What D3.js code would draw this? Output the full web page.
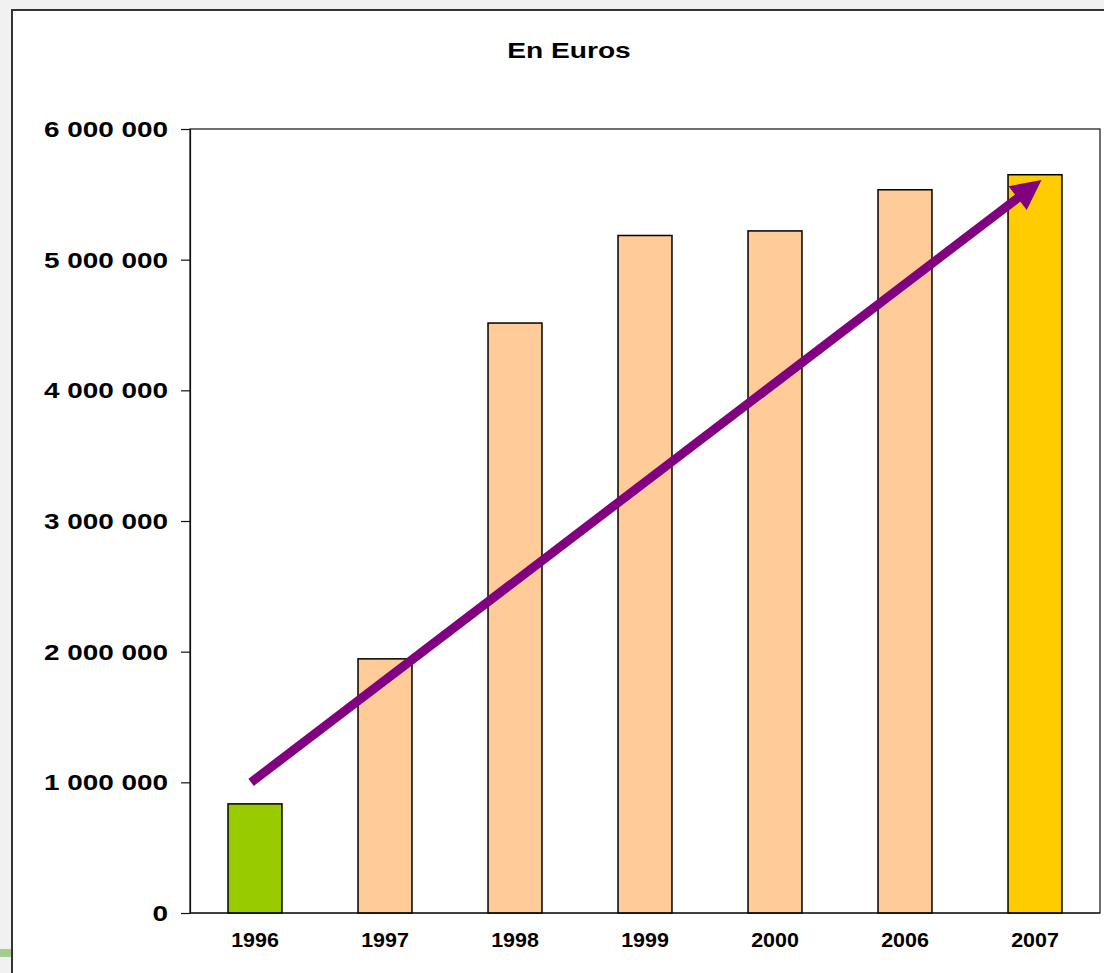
<!DOCTYPE html>
<html lang="fr">
<head>
    <meta charset="UTF-8">
    <title>En Euros</title>
    <script src="https://d3js.org/d3.v7.min.js"></script>
    <style>
        html, body { margin: 0; padding: 0; background: #f1f1f1; overflow: hidden; }
        svg { display: block; }
        text { font-family: "Liberation Sans", Arial, sans-serif; font-weight: bold; fill: #000; }
        .bar { stroke: #000; stroke-width: 1.5px; }
    </style>
</head>
<body>
    <svg width="1104" height="973"></svg>
    <script>
        // data
        const years = ["1996", "1997", "1998", "1999", "2000", "2006", "2007"];
        const amounts = [835000, 1945000, 4515000, 5185000, 5220000, 5535000, 5650000];
        const barColors = ["#99cc00", "#ffcc99", "#ffcc99", "#ffcc99", "#ffcc99", "#ffcc99", "#ffcc00"];
        const yTicks = [0, 1000000, 2000000, 3000000, 4000000, 5000000, 6000000];
        // trend arrow: start / end as (category, position inside band, value)
        const trendFrom = { year: "1996", at: 0.47, value: 1000000 };
        const trendTo = { year: "2007", at: 0.55, value: 5610000 };

        const width = 1104, height = 973;
        const margin = { top: 129, right: 4, bottom: 60, left: 190 };

        const svg = d3.select("svg");

        // grey page with the white card on top
        svg.append("rect")
            .attr("x", 0).attr("y", 0)
            .attr("width", width).attr("height", height)
            .attr("fill", "#f1f1f1");
        svg.append("rect")
            .attr("x", 0).attr("y", 949)
            .attr("width", 12).attr("height", 8)
            .attr("fill", "#a3cc8e");
        svg.append("rect")
            .attr("x", 12).attr("y", 10)
            .attr("width", width).attr("height", height)
            .attr("fill", "#fff")
            .attr("stroke", "#333")
            .attr("stroke-width", 2);

        const x = d3.scaleBand()
            .domain(years)
            .range([margin.left, width - margin.right])
            .paddingInner(0.585)
            .paddingOuter(0.2925);

        const y = d3.scaleLinear()
            .domain([0, 6000000])
            .range([height - margin.bottom, margin.top]);

        const fmt = v => d3.format(",")(v).replace(/,/g, " ");

        // title
        svg.append("text")
            .attr("transform", "translate(569,58) scale(1.28,1)")
            .attr("text-anchor", "middle")
            .style("font-size", "22px")
            .text("En Euros");

        // plot frame
        svg.append("rect")
            .attr("x", margin.left)
            .attr("y", margin.top)
            .attr("width", width - margin.right - margin.left)
            .attr("height", y(0) - margin.top)
            .attr("fill", "none")
            .attr("stroke", "#111")
            .attr("stroke-width", 1.2);

        // y axis
        const yAxis = svg.append("g")
            .attr("transform", `translate(${margin.left},0)`)
            .call(d3.axisLeft(y).tickValues(yTicks).tickSize(9).tickSizeOuter(0).tickFormat(""));
        yAxis.select(".domain").attr("stroke", "#111").attr("stroke-width", 1.2);
        yAxis.selectAll(".tick line").attr("stroke", "#111").attr("stroke-width", 1.2);

        svg.append("g").selectAll("text")
            .data(yTicks)
            .join("text")
            .attr("transform", d => `translate(168,${y(d) + 8}) scale(1.28,1)`)
            .attr("text-anchor", "end")
            .style("font-size", "21.8px")
            .text(d => fmt(d));

        // bars
        svg.append("g").selectAll("rect")
            .data(years)
            .join("rect")
            .attr("class", "bar")
            .attr("x", d => x(d))
            .attr("y", (d, i) => y(amounts[i]))
            .attr("width", x.bandwidth())
            .attr("height", (d, i) => y(0) - y(amounts[i]))
            .attr("fill", (d, i) => barColors[i]);

        // bottom axis line redrawn over bar edges
        svg.append("line")
            .attr("x1", margin.left).attr("x2", width - margin.right)
            .attr("y1", y(0)).attr("y2", y(0))
            .attr("stroke", "#111").attr("stroke-width", 1.2);

        // x labels
        svg.append("g").selectAll("text")
            .data(years)
            .join("text")
            .attr("transform", d => `translate(${x(d) + x.bandwidth() / 2},947) scale(1.1,1)`)
            .attr("text-anchor", "middle")
            .style("font-size", "19.5px")
            .text(d => d);

        // trend arrow
        const step = x.step();
        const bandPos = p => x(p.year) - x.padding() * step / 2 + p.at * step;
        const x1 = bandPos(trendFrom), y1 = y(trendFrom.value);
        const x2 = bandPos(trendTo), y2 = y(trendTo.value);
        const ang = Math.atan2(y2 - y1, x2 - x1);
        const headLen = 30, headHalf = 15;
        const bx = x2 - headLen * Math.cos(ang), by = y2 - headLen * Math.sin(ang);

        svg.append("line")
            .attr("x1", x1).attr("y1", y1)
            .attr("x2", bx + 4 * Math.cos(ang)).attr("y2", by + 4 * Math.sin(ang))
            .attr("stroke", "#800080")
            .attr("stroke-width", 9);

        svg.append("path")
            .attr("d", d3.line()([
                [x2, y2],
                [bx - headHalf * Math.sin(ang), by + headHalf * Math.cos(ang)],
                [bx + headHalf * Math.sin(ang), by - headHalf * Math.cos(ang)]
            ]) + "Z")
            .attr("fill", "#800080");
    </script>
</body>
</html>
